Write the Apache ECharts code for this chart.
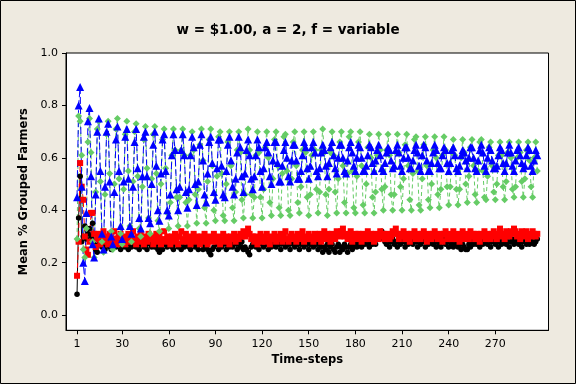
<!DOCTYPE html>
<html><head><meta charset="utf-8">
<script src="https://cdn.jsdelivr.net/npm/echarts@6/dist/echarts.min.js"></script>
<style>html,body{margin:0;padding:0;background:#EEEAE0}#c{width:576px;height:384px}</style>
</head><body><div id="c"></div><script>
const xTicks = [1, 30, 60, 90, 120, 150, 180, 210, 240, 270];
const yTicks = [0, 0.2, 0.4, 0.6, 0.8, 1.0];

const blackSeries = [
.08,.37,.53,.28,.30,.34,.29,.31,.33,.30,
.35,.27,.25,.24,.27,.29,.26,.28,.25,.27,
.28,.26,.25,.27,.29,.26,.28,.27,.25,.26,
.28,.26,.27,.25,.28,.26,.27,.29,.26,.27,
.25,.27,.28,.26,.27,.25,.28,.27,.26,.28,
.26,.27,.25,.24,.26,.25,.27,.28,.26,.27,
.28,.26,.25,.27,.28,.26,.27,.25,.28,.26,
.27,.28,.26,.25,.27,.28,.26,.27,.25,.28,
.27,.25,.26,.28,.25,.24,.23,.25,.26,.28,
.27,.25,.28,.26,.27,.28,.25,.27,.26,.28,
.26,.27,.28,.25,.27,.26,.28,.25,.26,.25,
.24,.23,.26,.27,.28,.26,.27,.25,.28,.27,
.26,.28,.27,.25,.28,.26,.27,.29,.26,.28,
.27,.25,.28,.27,.26,.28,.27,.25,.28,.27,
.26,.28,.27,.25,.27,.28,.26,.28,.27,.25,
.27,.28,.26,.28,.27,.25,.27,.26,.24,.26,
.25,.27,.24,.26,.27,.25,.24,.26,.27,.24,
.26,.25,.27,.26,.24,.26,.27,.25,.26,.27,
.26,.28,.27,.26,.28,.27,.29,.27,.26,.28,
.27,.28,.27,.29,.30,.31,.32,.29,.28,.27,
.28,.26,.28,.29,.27,.28,.26,.28,.27,.29,
.28,.26,.28,.27,.29,.28,.27,.29,.28,.26,
.28,.27,.29,.28,.26,.28,.27,.29,.28,.27,
.28,.26,.28,.27,.26,.28,.29,.27,.28,.26,
.28,.27,.26,.27,.28,.26,.27,.25,.27,.26,
.25,.25,.27,.26,.28,.27,.29,.27,.28,.26,
.28,.27,.29,.28,.27,.28,.26,.28,.29,.27,
.28,.26,.28,.27,.29,.28,.27,.28,.26,.28,
.29,.27,.28,.29,.27,.28,.26,.28,.29,.27,
.28,.27,.29,.28,.27,.28,.29
];

const redSeries = [
.15,.28,.58,.49,.44,.30,.25,.23,.28,.39,
.39,.31,.26,.29,.31,.27,.30,.32,.28,.30,
.27,.31,.29,.28,.32,.29,.27,.30,.31,.28,
.30,.27,.29,.31,.28,.30,.32,.29,.27,.30,
.28,.31,.29,.27,.30,.28,.31,.29,.30,.27,
.29,.31,.28,.30,.27,.29,.32,.28,.30,.29,
.27,.30,.28,.31,.29,.27,.30,.32,.28,.29,
.31,.28,.30,.27,.29,.31,.28,.30,.29,.27,
.30,.28,.31,.29,.27,.30,.29,.28,.31,.29,
.28,.30,.27,.29,.31,.28,.30,.29,.27,.30,
.29,.31,.28,.30,.29,.31,.30,.32,.30,.31,
.33,.31,.29,.30,.28,.30,.27,.29,.31,.28,
.30,.28,.31,.29,.27,.30,.29,.31,.28,.30,
.29,.31,.28,.30,.32,.29,.28,.30,.31,.29,
.30,.28,.31,.29,.30,.32,.28,.30,.29,.31,
.29,.30,.28,.31,.30,.29,.31,.28,.30,.32,
.29,.31,.30,.28,.31,.30,.29,.32,.31,.30,
.32,.33,.30,.31,.29,.30,.32,.28,.30,.31,
.29,.31,.30,.28,.31,.29,.30,.32,.29,.31,
.30,.28,.31,.30,.29,.32,.30,.31,.29,.30,
.31,.29,.30,.32,.31,.33,.31,.29,.31,.30,
.32,.29,.31,.30,.28,.31,.30,.32,.29,.31,
.30,.29,.31,.32,.30,.28,.31,.30,.29,.31,
.32,.30,.29,.31,.30,.28,.31,.32,.29,.30,
.31,.29,.32,.30,.29,.31,.28,.30,.32,.29,
.31,.30,.29,.32,.30,.31,.29,.31,.30,.28,
.31,.30,.32,.29,.31,.30,.29,.31,.32,.30,
.29,.31,.33,.30,.31,.29,.32,.31,.30,.32,
.31,.33,.32,.30,.31,.29,.32,.31,.30,.32,
.29,.31,.30,.32,.31,.30,.31
];

const greenSeries = [
.29,.76,.74,.61,.25,.22,
.33,.66,.75,.62,.28,.22,
.47,.71,.74,.51,.28,.24,
.46,.69,.74,.54,.32,.25,
.50,.71,.75,.52,.31,.27,
.48,.69,.74,.55,.34,.28,
.51,.70,.73,.53,.33,.30,
.49,.67,.72,.56,.37,.31,
.52,.69,.72,.54,.36,.32,
.50,.67,.71,.56,.39,.33,
.43,.61,.71,.63,.45,.34,
.45,.63,.71,.61,.43,.34,
.44,.61,.70,.63,.46,.35,
.48,.65,.71,.59,.41,.35,
.51,.67,.71,.57,.40,.36,
.53,.68,.70,.54,.38,.36,
.50,.66,.70,.57,.41,.36,
.47,.63,.70,.62,.44,.37,
.46,.62,.71,.63,.46,.37,
.45,.61,.70,.62,.45,.37,
.48,.64,.70,.60,.43,.38,
.52,.67,.70,.57,.41,.38,
.54,.68,.69,.55,.40,.38,
.52,.66,.70,.57,.43,.39,
.49,.63,.70,.62,.45,.38,
.46,.61,.70,.63,.48,.39,
.47,.63,.71,.62,.46,.38,
.48,.62,.70,.61,.47,.39,
.52,.66,.70,.57,.43,.39,
.54,.68,.70,.55,.41,.39,
.53,.66,.70,.57,.42,.39,
.50,.64,.69,.60,.45,.39,
.47,.61,.69,.63,.48,.40,
.49,.63,.69,.61,.46,.40,
.46,.62,.69,.62,.49,.40,
.52,.65,.69,.57,.44,.40,
.54,.67,.68,.55,.42,.40,
.52,.65,.68,.57,.44,.41,
.50,.63,.68,.60,.46,.41,
.48,.61,.68,.63,.49,.42,
.49,.62,.67,.61,.48,.42,
.48,.60,.67,.62,.50,.43,
.53,.64,.67,.57,.46,.43,
.55,.66,.67,.55,.45,.44,
.53,.64,.66,.57,.47,.44,
.50,.61,.66,.61,.49,.44,
.51,.62,.66,.60,.48,.45,
.49,.60,.66,.62,.51,.45,
.52,.63,.66,.59,.49,.45,
.60,.66,.55
];

const blueSeries = [
.45,.80,.87,.49,.20,.13,
.39,.74,.79,.53,.27,.22,
.46,.70,.75,.55,.31,.25,
.49,.70,.73,.51,.30,.27,
.47,.67,.72,.55,.34,.29,
.51,.68,.71,.52,.34,.31,
.49,.66,.71,.56,.37,.33,
.53,.68,.70,.53,.37,.35,
.50,.65,.70,.57,.40,.36,
.54,.67,.69,.55,.40,.38,
.46,.61,.69,.63,.48,.40,
.49,.63,.69,.61,.47,.41,
.48,.61,.68,.64,.50,.42,
.51,.65,.69,.59,.46,.43,
.54,.66,.68,.58,.47,.44,
.56,.67,.67,.57,.46,.45,
.55,.65,.68,.59,.49,.46,
.52,.62,.68,.64,.53,.47,
.54,.63,.67,.61,.52,.48,
.53,.61,.67,.64,.55,.49,
.56,.64,.66,.62,.53,.50,
.59,.66,.66,.58,.51,.51,
.57,.63,.66,.60,.53,.51,
.59,.65,.65,.59,.52,.52,
.55,.61,.66,.64,.56,.52,
.57,.64,.66,.62,.55,.53,
.56,.62,.65,.63,.57,.53,
.58,.64,.66,.61,.56,.54,
.60,.65,.65,.60,.55,.54,
.59,.64,.66,.62,.57,.55,
.60,.65,.64,.60,.55,.55,
.57,.61,.65,.64,.58,.55,
.59,.63,.65,.61,.56,.55,
.58,.62,.64,.63,.59,.56,
.57,.63,.65,.62,.57,.55,
.60,.64,.64,.60,.56,.56,
.59,.63,.65,.62,.57,.55,
.61,.65,.64,.59,.55,.55,
.58,.62,.65,.63,.58,.56,
.56,.61,.64,.63,.58,.55,
.58,.63,.64,.61,.56,.55,
.57,.61,.63,.62,.59,.56,
.60,.64,.64,.60,.56,.55,
.59,.63,.65,.62,.57,.55,
.60,.64,.63,.59,.56,.56,
.57,.61,.64,.63,.58,.55,
.58,.62,.65,.62,.57,.55,
.59,.63,.64,.61,.58,.56,
.57,.61,.64,.63,.57,.55,
.59,.63,.61
];

function pairs(vals) { return vals.map((v, i) => [i + 1, v]); }

const FONT = 'DejaVu Sans';
const chart = echarts.init(document.getElementById('c'), null, {renderer: 'canvas'});

function mk(name, vals, color, symbol, size, dash) {
  return {
    name: name, type: 'line', data: pairs(vals),
    symbol: symbol, symbolSize: size, showAllSymbol: true,
    itemStyle: {color: color},
    lineStyle: {color: color, width: 1, type: dash},
    emphasis: {disabled: true},
    animation: false
  };
}

chart.setOption({
  backgroundColor: '#EEEAE0',
  animation: false,
  title: {
    text: 'w = $1.00, a = 2, f = variable', left: 'center', top: 18,
    textStyle: {fontFamily: FONT, fontWeight: 'bold', fontSize: 13.5, color: '#000'}
  },
  grid: {left: 66, right: 27.5, top: 53, bottom: 53.7, show: true,
         backgroundColor: '#fff', borderColor: '#000', borderWidth: 1},
  xAxis: {
    type: 'value', min: -6.1, max: 304.2,
    axisLine: {show: true, onZero: false, lineStyle: {color: '#000', width: 1}},
    axisTick: {show: true, length: 4, customValues: xTicks, lineStyle: {color: '#000'}},
    axisLabel: {customValues: xTicks, margin: 8, fontFamily: FONT, fontSize: 11, color: '#000'},
    splitLine: {show: false},
    name: 'Time-steps', nameLocation: 'middle', nameGap: 22,
    nameTextStyle: {fontFamily: FONT, fontWeight: 'bold', fontSize: 11.5, color: '#000'}
  },
  yAxis: {
    type: 'value', min: -0.058, max: 1.0,
    axisLine: {show: true, onZero: false, lineStyle: {color: '#000', width: 1}},
    axisTick: {show: true, length: 4, customValues: yTicks, lineStyle: {color: '#000'}},
    axisLabel: {customValues: yTicks, margin: 8, fontFamily: FONT, fontSize: 11, color: '#000',
                formatter: v => Number(v).toFixed(1)},
    splitLine: {show: false},
    name: 'Mean % Grouped Farmers', nameLocation: 'middle', nameGap: 36, nameRotate: 90,
    nameTextStyle: {fontFamily: FONT, fontWeight: 'bold', fontSize: 11.5, color: '#000'}
  },
  graphic: [{
    type: 'rect', shape: {x: 0.5, y: 0.5, width: 575, height: 383},
    style: {fill: null, stroke: '#000', lineWidth: 1}, silent: true, z: 100
  }],
  series: [
    mk('black', blackSeries, '#000000', 'circle', 5.5, 'solid'),
    mk('red', redSeries, '#FF0000', 'rect', 6, [5, 3]),
    mk('green', greenSeries, '#66CC66', 'diamond', 7, [4, 3]),
    mk('blue', blueSeries, '#0000FF', 'triangle', 8, [7, 3])
  ]
});
</script></body></html>
